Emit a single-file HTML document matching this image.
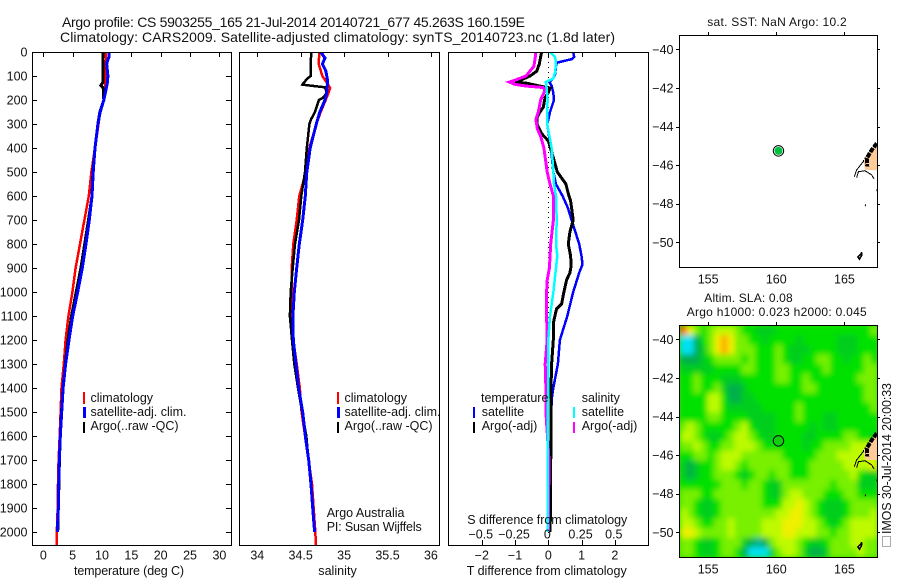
<!DOCTYPE html>
<html>
<head>
<meta charset="utf-8">
<title>Argo profile</title>
<style>
html,body{margin:0;padding:0;background:#fff;}
svg{display:block;font-family:"Liberation Sans",sans-serif;font-size:12.5px;fill:#000;}
text{fill:#111;}
</style>
</head>
<body>
<svg id="chart" xmlns="http://www.w3.org/2000/svg" width="900" height="580" viewBox="0 0 900 580">
  <defs>
    <clipPath id="p1"><rect x="33" y="53" width="198" height="492"/></clipPath>
    <clipPath id="p2"><rect x="240" y="53" width="199" height="492"/></clipPath>
    <clipPath id="p3"><rect x="449" y="53" width="199" height="492"/></clipPath>
    <clipPath id="m1"><rect x="679" y="35" width="198" height="232"/></clipPath>
    <clipPath id="m2"><rect x="679" y="325" width="198" height="232"/></clipPath>
    <filter id="soft" x="-5%" y="-5%" width="110%" height="110%"><feGaussianBlur stdDeviation="3"/></filter>
  </defs>
  <rect x="0" y="0" width="900" height="580" fill="#fff"/>
  <text x="62" y="27" font-size="14" textLength="463">Argo profile: CS 5903255_165 21-Jul-2014 20140721_677 45.263S 160.159E</text>
  <text x="60" y="42" font-size="14" textLength="555">Climatology: CARS2009. Satellite-adjusted climatology: synTS_20140723.nc (1.8d later)</text>
  <g id="heat" clip-path="url(#m2)"></g>
  <g id="lines1" clip-path="url(#p1)"></g>
  <g id="lines2" clip-path="url(#p2)"></g>
  <g id="lines3" clip-path="url(#p3)"></g>
  <g id="map1" clip-path="url(#m1)"></g>
  <g id="map2" clip-path="url(#m2)"></g>
  <g id="axes"></g>

  <g>
    <rect x="83" y="392" width="2" height="12" fill="#f00"/>
    <rect x="83" y="407" width="3" height="11" fill="#00f"/>
    <rect x="83" y="422" width="2" height="11" fill="#000"/>
    <text x="90.5" y="402">climatology</text>
    <text x="90.5" y="416" textLength="96">satellite-adj. clim.</text>
    <text x="90.5" y="430" textLength="88">Argo(..raw -QC)</text>
  </g>
  <g>
    <rect x="337" y="392" width="2" height="12" fill="#f00"/>
    <rect x="337" y="407" width="3" height="11" fill="#00f"/>
    <rect x="337" y="422" width="2" height="11" fill="#000"/>
    <text x="344.5" y="402">climatology</text>
    <text x="344.5" y="416" textLength="96">satellite-adj. clim.</text>
    <text x="344.5" y="430" textLength="88">Argo(..raw -QC)</text>
    <text x="326.7" y="517">Argo Australia</text>
    <text x="326.7" y="531" textLength="95">PI: Susan Wijffels</text>
  </g>
  <g>
    <text x="481" y="402">temperature</text>
    <text x="581.7" y="402">salinity</text>
    <rect x="473" y="407" width="2" height="11" fill="#00f"/>
    <rect x="473" y="422" width="2" height="11" fill="#000"/>
    <rect x="573" y="407" width="2" height="11" fill="#0ff"/>
    <rect x="573" y="422" width="2" height="11" fill="#f0f"/>
    <text x="481.7" y="416">satellite</text>
    <text x="481.7" y="430">Argo(-adj)</text>
    <text x="581.7" y="416">satellite</text>
    <text x="581.7" y="430">Argo(-adj)</text>
  </g>
  <text x="467.3" y="524" textLength="160">S difference from climatology</text>
  <text x="74" y="575" textLength="110">temperature (deg C)</text>
  <text x="318.3" y="575" textLength="38.4">salinity</text>
  <text x="466.7" y="575" textLength="160">T difference from climatology</text>
  <text x="707.3" y="26" textLength="139.4" font-size="12">sat. SST: NaN Argo: 10.2</text>
  <text x="704.3" y="302" textLength="88.4" font-size="12">Altim. SLA: 0.08</text>
  <text x="686.7" y="316" textLength="180" font-size="12">Argo h1000: 0.023 h2000: 0.045</text>
  <text transform="translate(891,534) rotate(-90)" textLength="151" font-size="12.5">IMOS 30-Jul-2014 20:00:33</text>
  <rect x="882.5" y="536.5" width="8" height="10" fill="none" stroke="#555" stroke-dasharray="1 1"/>
</svg>
<script>
// ---------- temperature panel data ----------
const climTempDepth = [0,30,50,100,150,200,250,300,400,500,600,700,800,900,1000,1100,1200,1300,1400,1500,1600,1700,1800,1900,2000,2055];
const climTempVal = [10.6,10.7,10.6,10.6,10.5,10.3,9.7,9.4,8.8,8.2,7.75,7.0,6.25,5.5,4.95,4.27,3.8,3.5,3.1,2.95,2.8,2.6,2.5,2.45,2.3,2.25];
const satTempDepth = [0,20,40,50,100,130,155,200,250,300,400,500,600,700,800,900,1000,1100,1200,1300,1400,1500,1600,1700,1800,1900,2000];
const satTempVal = [11.2,11.2,10.9,10.8,11.0,10.9,10.7,10.3,9.7,9.3,8.8,8.5,8.3,7.84,7.27,6.65,5.86,5.0,4.38,3.8,3.37,3.13,2.9,2.73,2.62,2.56,2.39];
const argoTempDepth = [0,100,125,140,150,200,250,300,400,500,600,700,800,900,1000,1100,1200,1300,1400,1500,1600,1700,1800,1900,2000];
const argoTempVal = [10.2,10.2,10.2,9.8,10.2,10.3,9.65,9.3,8.8,8.45,8.3,7.7,7.05,6.4,5.6,4.8,4.2,3.75,3.35,3.1,2.9,2.75,2.65,2.55,2.45];
// ---------- salinity panel data ----------
const climSalDepth = [0,50,100,150,180,250,300,400,500,600,700,800,900,1000,1100,1200,1300,1400,1500,1800,2000,2055];
const climSalVal = [34.714,34.707,34.75,34.84,34.81,34.73,34.68,34.6,34.56,34.484,34.454,34.415,34.396,34.4,34.4,34.415,34.454,34.49,34.51,34.63,34.668,34.676];
const satSalDepth = [0,25,50,80,120,170,200,250,300,400,500,600,700,800,900,1000,1100,1200,1300,1400,1500,1600,1700,1800,1900,2000];
const satSalVal = [34.73,34.78,34.75,34.79,34.81,34.8,34.78,34.72,34.68,34.61,34.57,34.553,34.523,34.484,34.454,34.426,34.41,34.415,34.446,34.476,34.523,34.553,34.592,34.619,34.638,34.66];
const argoSalDepth = [0,100,110,130,136,140,147,170,190,200,250,280,300,400,500,600,700,800,900,1000,1100,1200,1300,1400,1600,1800,2000];
const argoSalVal = [34.62,34.615,34.58,34.53,34.52,34.61,34.78,34.8,34.76,34.71,34.665,34.62,34.6,34.57,34.55,34.507,34.48,34.434,34.408,34.385,34.376,34.4,34.426,34.469,34.565,34.615,34.66];
// ---------- difference panel data ----------
const dTSatDepth = [0,20,30,38,45,60,90,110,125,140,170,200,250,300,350,400,500,550,600,650,700,800,850,885,920,1000,1100,1200,1300,1400,1450,1600,1700,2000];
const dTSatVal = [0.75,0.78,0.7,0.45,0.25,0.23,0.21,0.15,0.03,0.1,0.15,0.17,0.05,-0.03,0.02,0.08,0.15,0.23,0.43,0.59,0.7,0.93,1.0,1.03,0.93,0.75,0.57,0.35,0.29,0.15,0.1,0.08,0.05,0.03];
const dTArgoDepth = [0,50,80,100,115,125,130,142,150,170,190,230,250,270,300,340,370,440,500,550,590,620,650,700,750,800,850,890,920,950,1000,1050,1070,1100,1130,1200,1300,1400,1900,2000];
const dTArgoVal = [-0.2,-0.27,-0.35,-0.55,-0.8,-1.0,-0.65,-0.25,0.05,0,-0.1,-0.15,-0.25,-0.33,-0.35,-0.2,0,0.15,0.27,0.53,0.6,0.67,0.7,0.75,0.65,0.6,0.67,0.69,0.65,0.55,0.47,0.4,0.25,0.2,0.15,0.15,0.1,0.08,0.07,0.05];
const dSSatDepth = [0,20,40,80,110,125,150,200,250,300,350,400,500,550,600,700,800,850,900,1000,1100,1200,1300,1400,1500,2000];
const dSSatVal = [0.0125,0.05,0.058,0.053,0.038,-0.018,-0.013,-0.005,-0.008,-0.008,0.008,0.025,0.038,0.043,0.058,0.063,0.058,0.068,0.058,0.038,0.013,0,0,0,-0.005,-0.005];
const dSArgoDepth = [0,30,60,80,100,115,125,135,142,148,160,200,230,250,280,320,350,400,500,550,600,650,700,800,900,950,1000,1100,1200,1300,1400,1500,1700,2000];
const dSArgoVal = [-0.093,-0.1,-0.108,-0.138,-0.168,-0.238,-0.293,-0.25,-0.163,-0.038,-0.025,-0.058,-0.068,-0.075,-0.093,-0.083,-0.058,-0.033,-0.008,0.013,0.038,0.038,0.038,0.018,0.008,-0.008,-0.013,-0.013,-0.008,-0.023,-0.018,-0.018,0.005,0];
// ---------- axis ticks ----------
const depthTicks = [0,100,200,300,400,500,600,700,800,900,1000,1100,1200,1300,1400,1500,1600,1700,1800,1900,2000];
const tempTicks = [0,5,10,15,20,25,30];
const salTicks = [34,34.5,35,35.5,36];
const dTTicks = [-2,-1,0,1,2];
const dSTicks = [-0.5,-0.25,0,0.25,0.5];
const lonTicks = [155,160,165];
const latTicks = [-40,-42,-44,-46,-48,-50];
// ---------- map data ----------
const profileLon = 160.159;
const profileLat = -45.263;
const landLon = [167.45,166.38,166.51,167.45];
const landLat = [-44.79,-45.74,-46.25,-46.27];
const coastALon = [165.72,165.90,166.38,166.38];
const coastALat = [-46.60,-46.25,-45.82,-45.74];
const coastBLon = [165.90,166.02,166.51,167.0,167.17];
const coastBLat = [-46.64,-46.34,-46.29,-46.51,-46.72];
const fiordLon = [167.37,167.0,166.63,166.68];
const fiordLat = [-44.87,-45.22,-45.65,-46.08];
const islandLon = [166.27,166.2,165.98,166.1,166.25];
const islandLat = [-50.52,-50.62,-50.75,-50.88,-50.7];
const dotLon = [166.5,167.35];
const dotLat = [-48.03,-47.25];
// sea level anomaly grid, 0.5 degree cells, coloured on a 0 (low) to 9 (high) scale
const slaGrid = [
[9,7,5,4,5,6,6,6,5,4,4,3,3,3,4,4,4,4,4,4,4,4,4,4,4,4,4,4,5],
[0,0,2,4,5,7,8,7,5,5,4,4,3,4,4,4,4,3,4,4,4,4,4,3,3,3,4,4,4],
[0,0,2,3,5,7,8,7,5,5,5,4,4,4,5,4,3,3,3,4,4,4,4,3,3,3,4,4,4],
[2,2,2,3,4,5,5,5,5,4,5,4,4,4,5,4,3,3,4,4,5,5,4,4,3,4,4,5,4],
[3,3,3,3,3,4,4,4,4,5,5,4,4,4,5,5,4,4,4,4,4,5,4,4,4,4,4,5,5],
[4,4,5,4,4,4,3,3,3,4,4,4,4,4,5,5,4,4,5,4,4,4,4,4,4,4,5,5,5],
[4,4,5,4,4,5,3,2,2,3,4,4,4,4,4,4,4,4,5,5,4,4,4,4,4,4,4,5,5],
[4,4,4,4,6,6,4,2,2,3,3,4,4,4,4,4,4,4,4,4,4,4,4,4,4,4,4,5,5],
[4,4,4,4,6,6,4,3,3,3,3,3,4,4,4,4,4,5,4,4,4,4,4,4,4,4,4,4,5],
[4,4,4,4,5,5,4,4,4,4,3,3,3,3,4,4,4,5,4,4,4,3,3,4,4,4,4,4,4],
[5,6,5,4,4,4,4,4,5,6,4,3,3,3,4,4,4,4,4,3,4,3,3,4,4,4,4,4,4],
[6,6,5,4,3,3,4,5,6,6,5,4,3,3,4,4,4,4,3,3,4,4,4,4,5,5,4,4,3],
[5,5,6,5,4,4,5,5,6,6,6,5,4,4,4,4,4,4,3,4,4,5,5,5,5,6,6,6,6],
[4,4,5,5,4,5,6,6,6,5,5,5,5,5,5,4,4,4,4,4,5,5,5,6,6,6,6,6,6],
[3,2,3,4,4,5,6,6,5,4,5,5,5,5,5,5,4,4,4,5,5,5,5,5,6,6,6,6,7],
[3,2,3,4,4,5,5,5,4,3,4,5,5,4,5,5,4,4,4,5,5,5,5,5,5,6,4,3,3],
[4,4,4,4,4,4,5,5,5,4,5,5,4,3,3,5,5,5,5,5,5,5,4,5,5,5,3,3,3],
[5,5,5,4,4,5,5,5,5,5,5,5,4,3,3,5,6,6,5,5,5,4,4,4,5,5,4,4,4],
[5,5,4,3,3,4,5,5,5,5,5,5,4,4,4,6,6,7,6,5,4,3,3,3,4,5,5,5,5],
[6,5,4,3,3,4,5,5,5,5,5,5,5,5,6,6,7,7,6,5,4,3,3,3,4,5,5,5,6],
[6,6,5,4,4,5,5,6,5,5,5,5,6,6,6,7,7,7,6,6,5,4,3,4,5,6,6,6,6],
[7,7,6,5,5,5,5,6,5,5,5,5,6,6,6,7,7,6,6,6,5,5,4,5,5,6,6,6,6],
[5,5,4,3,3,4,5,5,5,3,2,1,2,5,6,6,6,5,4,3,3,4,5,5,5,6,6,5,5],
[5,5,4,3,3,4,5,5,4,2,0,0,0,3,5,6,6,5,3,2,2,3,5,5,5,5,6,5,5]
];
const gridStartLon = 152.93;
const gridStartLat = -39.28;
const gridStep = 0.5;

// ---------- axis functions ----------
function yD(d){ return 52 + 0.24*d; }
function xT(v){ return 43.3 + 5.87*v; }
function xS(v){ return 257.3 + 86.8*(v-34); }
function xDT(v){ return 548.3 + 33.25*v; }
function xDS(v){ return 548.3 + 133*v; }
function lonX(v){ return 776.3 + 13.63*(v-160); }
function latY1(v){ return 49.3 + 19.3*(-40-v); }
function latY2(v){ return 339.3 + 19.3*(-40-v); }

const NS = 'http://www.w3.org/2000/svg';
function make(tag, parent, attrs){
  const el = document.createElementNS(NS, tag);
  for (const k in attrs) el.setAttribute(k, attrs[k]);
  parent.appendChild(el);
  return el;
}
function profile(parent, depths, vals, xFn, color, width, label){
  const pts = depths.map((d,i)=> xFn(vals[i]).toFixed(1)+','+yD(d).toFixed(1)).join(' ');
  const el = make('polyline', parent, {points:pts, fill:'none', stroke:color, 'stroke-width':width, 'shape-rendering':'crispEdges'});
  
  
}

// ---------- heatmap ----------
const stops = [[0,225,245],[0,180,150],[0,175,75],[0,205,30],[0,225,0],[120,240,0],[190,250,0],[240,240,0],[255,170,0],[255,90,0]];
function heatColor(v){
  const c = Math.max(0, Math.min(9, v));
  const i = Math.min(8, Math.floor(c));
  const f = c - i;
  const m = stops[i].map((s,k)=> Math.round(s + (stops[i+1][k]-s)*f));
  return 'rgb('+m.join(',')+')';
}
const heat = document.getElementById('heat');
const heatBase = make('rect', heat, {x:679, y:325, width:198, height:232, fill:'#30dc00'});


const heatCells = make('g', heat, {filter:'url(#soft)'});


slaGrid.forEach((row,r)=>{
  row.forEach((v,c)=>{
    const x0 = lonX(gridStartLon + c*gridStep);
    const x1 = lonX(gridStartLon + (c+1)*gridStep);
    const y0 = latY2(gridStartLat - r*gridStep);
    const y1 = latY2(gridStartLat - (r+1)*gridStep);
    const cell = make('rect', heatCells, {x:x0, y:y0, width:x1-x0+0.5, height:y1-y0+0.5, fill:heatColor(v)});
    
    
  });
});

// ---------- profile lines ----------
const g1 = document.getElementById('lines1');
profile(g1, climTempDepth, climTempVal, xT, '#f00', 2.5, 'temperature-climatology-line');
profile(g1, argoTempDepth, argoTempVal, xT, '#000', 3, 'temperature-argo-line');
profile(g1, satTempDepth, satTempVal, xT, '#00f', 3, 'temperature-satellite-line');

const g2 = document.getElementById('lines2');
profile(g2, climSalDepth, climSalVal, xS, '#f00', 2.5, 'salinity-climatology-line');
profile(g2, argoSalDepth, argoSalVal, xS, '#000', 2.5, 'salinity-argo-line');
profile(g2, satSalDepth, satSalVal, xS, '#00f', 3, 'salinity-satellite-line');

const g3 = document.getElementById('lines3');
const zero = make('line', g3, {x1:xDT(0), x2:xDT(0), y1:52, y2:545, stroke:'#000', 'stroke-width':1, 'stroke-dasharray':'1 4', 'shape-rendering':'crispEdges'});


profile(g3, dTSatDepth, dTSatVal, xDT, '#00f', 2.5, 't-diff-satellite-line');
profile(g3, dTArgoDepth, dTArgoVal, xDT, '#000', 3, 't-diff-argo-line');
profile(g3, dSArgoDepth, dSArgoVal, xDS, '#f0f', 3, 's-diff-argo-line');
profile(g3, dSSatDepth, dSSatVal, xDS, '#0ff', 2.5, 's-diff-satellite-line');

// ---------- maps ----------
function drawMap(parent, latY, fill, ring){
  const poly = (lons,lats)=> lons.map((v,i)=> lonX(v).toFixed(1)+','+latY(lats[i]).toFixed(1)).join(' ');
  const land = make('polygon', parent, {points:poly(landLon,landLat), fill:'#ffcc99', stroke:'none'});
  
  
  const isl = make('polygon', parent, {points:poly(islandLon,islandLat), fill:'#ffcc99', stroke:'#000', 'stroke-width':1.5, 'shape-rendering':'crispEdges'});
  
  
  const ca = make('polyline', parent, {points:poly(coastALon,coastALat), fill:'none', stroke:'#000', 'stroke-width':1, 'shape-rendering':'crispEdges'});
  
  
  const cb = make('polyline', parent, {points:poly(coastBLon,coastBLat), fill:'none', stroke:'#000', 'stroke-width':1, 'shape-rendering':'crispEdges'});
  
  
  const fi = make('polyline', parent, {points:poly(fiordLon,fiordLat), fill:'none', stroke:'#000', 'stroke-width':4, 'stroke-dasharray':'5 1', 'shape-rendering':'crispEdges'});
  
  
  dotLon.forEach((v,i)=>{
    const d = make('rect', parent, {x:lonX(v), y:latY(dotLat[i]), width:1, height:2, fill:'#000'});
    
    
  });
  const m = make('circle', parent, {cx:lonX(profileLon), cy:latY(profileLat), r:5.2, fill:ring, stroke:'#000', 'stroke-width':1});
  
  
  const dot = make('circle', parent, {cx:lonX(profileLon), cy:latY(profileLat), r:4, fill:fill});
  
  
}
drawMap(document.getElementById('map1'), latY1, '#00c040', '#fff');
drawMap(document.getElementById('map2'), latY2, '#10d010', '#10d010');

// ---------- axes ----------
const axes = document.getElementById('axes');
function frame(x,y,w,h,label){
  const r = make('rect', axes, {x:x+0.5, y:y+0.5, width:w, height:h, fill:'none', stroke:'#000', 'stroke-width':1, 'shape-rendering':'crispEdges'});
  
  
}
function tick(x1,y1,x2,y2){
  const t = make('line', axes, {x1:x1, y1:y1, x2:x2, y2:y2, stroke:'#000', 'stroke-width':1, 'shape-rendering':'crispEdges'});
  
  
}
function label(x,y,str,anchor,size){
  const t = make('text', axes, {x:x, y:y, 'text-anchor':anchor, 'font-size':size||12.5});
  t.textContent = str;
  
  
}
function fmt(v){ return String(v).replace('-', '\u2212'); }

frame(32,52,199,493,'temperature-panel-frame');
frame(239,52,200,493,'salinity-panel-frame');
frame(448,52,200,493,'difference-panel-frame');
frame(679,35,198,232,'sst-map-frame');
frame(679,325,198,232,'sla-map-frame');

depthTicks.forEach(d=>{
  const y = Math.round(yD(d))+0.5;
  tick(32,y,37,y);
  tick(226,y,231,y);
  label(27.5, yD(d)+4.5, String(d), 'end');
});
tempTicks.forEach(v=>{
  const x = Math.round(xT(v))+0.5;
  tick(x,52,x,57);
  label(xT(v), 559.5, String(v), 'middle');
});
salTicks.forEach(v=>{
  const x = Math.round(xS(v))+0.5;
  tick(x,52,x,57);
  label(xS(v), 559.5, String(v), 'middle');
});
dTTicks.forEach(v=>{
  const x = Math.round(xDT(v))+0.5;
  tick(x,52,x,57);
  tick(x,540,x,545);
  label(xDT(v), 559.5, fmt(v), 'middle');
});
dSTicks.forEach(v=>{
  label(xDS(v)-1, 538.5, fmt(v), 'middle');
});
[[35,267,latY1,283.5],[325,557,latY2,573.5]].forEach(m=>{
  lonTicks.forEach(v=>{
    const x = Math.round(lonX(v))+0.5;
    tick(x,m[0]-3,x,m[0]);
    label(lonX(v), m[3], String(v), 'middle');
  });
  latTicks.forEach(v=>{
    const y = Math.round(m[2](v))+0.5;
    tick(676,y,679,y);
    tick(877,y,880,y);
    label(673.5, m[2](v)+4.5, fmt(v), 'end');
  });
});
</script>
</body>
</html>
